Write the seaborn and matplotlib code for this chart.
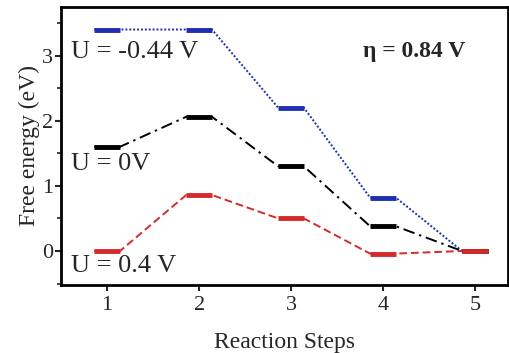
import numpy as np
import pandas as pd
import matplotlib
matplotlib.use("Agg")
import matplotlib.pyplot as plt
from matplotlib.ticker import MultipleLocator
import seaborn as sns

# ==========================================
# Data (free energy diagram)
# ==========================================
steps = [1, 2, 3, 4, 5]
g_neg044 = [3.40, 3.40, 2.20, 0.82, 0.00]   # U = -0.44 V
g_zero = [1.60, 2.06, 1.30, 0.38, 0.00]     # U = 0 V
g_pos04 = [0.00, 0.86, 0.50, -0.04, 0.00]   # U = 0.4 V
labels = ["U = -0.44 V", "U = 0V", "U = 0.4 V"]
colors = ["#1f2fb0", "#000000", "#d42a2a"]
styles = [(0, (1, 1.0)), (0, (6, 2.5, 1.2, 2.5)), (0, (4, 2))]

HALF = 0.14  # half width of each level bar

sns.set_style("ticks")
plt.rcParams["font.family"] = ["Liberation Serif", "DejaVu Serif"]

fig = plt.figure(figsize=(5.1, 3.53), dpi=100)
ax = fig.add_axes([0.12, 0.193, 0.876, 0.788])

for vals, col, ls in zip([g_neg044, g_zero, g_pos04], colors, styles):
    xs, ys = [], []
    for s, v in zip(steps, vals):
        xs += [s - HALF, s + HALF]
        ys += [v, v]
    df = pd.DataFrame({"x": xs, "y": ys})
    sns.lineplot(data=df, x="x", y="y", sort=False, estimator=None,
                 color=col, linestyle=ls, lw=1.4, ax=ax)
    ax.hlines(vals, np.array(steps) - HALF, np.array(steps) + HALF,
              colors=col, lw=3.5, zorder=3)

ax.text(0.61, 2.97, labels[0], fontsize=19)
ax.text(0.61, 1.25, labels[1], fontsize=19)
ax.text(0.61, -0.33, labels[2], fontsize=19)
ax.text(3.78, 2.98, "η = 0.84 V", fontsize=17, fontweight="bold")

ax.set_xlim(0.5, 5.36)
ax.set_ylim(-0.52, 3.75)
ax.set_xticks(steps)
ax.yaxis.set_major_locator(MultipleLocator(1))
ax.yaxis.set_minor_locator(MultipleLocator(0.5))
ax.tick_params(axis="both", labelsize=16, width=1.5, length=4)
ax.tick_params(axis="x", pad=4)
ax.tick_params(axis="y", pad=2)
ax.tick_params(axis="y", which="minor", width=1.2, length=3)
ax.set_xlabel("Reaction Steps", fontsize=17, labelpad=12)
ax.set_ylabel("Free energy (eV)", fontsize=17, labelpad=1)
for sp in ax.spines.values():
    sp.set_linewidth(2)
    sp.set_color("black")

fig.savefig("out.png", dpi=100)
